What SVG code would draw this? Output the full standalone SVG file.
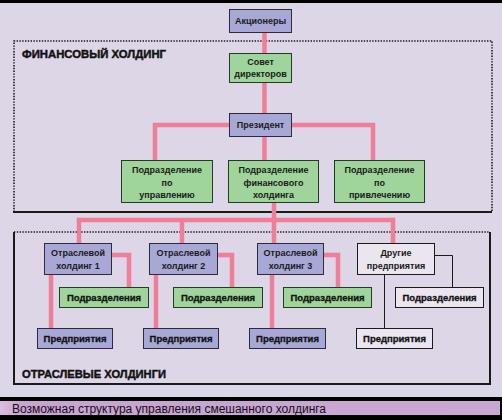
<svg xmlns="http://www.w3.org/2000/svg" width="502" height="420" viewBox="0 0 502 420">
<defs>
<linearGradient id="cap" x1="0" y1="0" x2="1" y2="0">
<stop offset="0" stop-color="#d8c0e0"/>
<stop offset="0.04" stop-color="#c9a3d2"/>
<stop offset="1" stop-color="#c9a7d3"/>
</linearGradient>
<style>
.bg{fill:#ddd6e7}
.blue{fill:#a8a8d6;stroke:#2b2b3a;stroke-width:1}
.green{fill:#9fd49b;stroke:#263826;stroke-width:1}
.white{fill:#ebe5f0;stroke:#1a1a1a;stroke-width:1}
.t{font-family:"Liberation Sans",Arial,sans-serif;font-weight:bold;font-size:9px;fill:#1a1a1a;text-anchor:middle}
.tb{font-family:"Liberation Sans",Arial,sans-serif;font-weight:bold;font-size:9.5px;fill:#111;stroke:#111;stroke-width:0.3;text-anchor:middle}
.head{font-family:"Liberation Sans",Arial,sans-serif;font-weight:bold;font-size:11.5px;fill:#111;stroke:#111;stroke-width:0.45}
.pink{fill:none;stroke:#ef7e99;stroke-width:4.5;stroke-linejoin:miter;stroke-linecap:butt}
.thin{fill:none;stroke:#1a1a1a;stroke-width:1}
.dot{fill:none;stroke:#1a1a1a;stroke-width:1.6;stroke-dasharray:1.4 1.4}
.solid{fill:none;stroke:#1a1a1a;stroke-width:2}
</style>
</defs>
<rect class="bg" x="0" y="0" width="502" height="420"/>
<rect x="0" y="0" width="502" height="3" fill="#000"/>
<rect x="0" y="397" width="502" height="23" fill="#000"/>
<rect x="0" y="401" width="500" height="14" fill="url(#cap)"/>
<text x="12" y="412.5" font-family="'Liberation Sans',Arial,sans-serif" font-size="12" fill="#111">Возможная структура управления смешанного холдинга</text>

<g id="financial-holding-frame">
<path class="dot" d="M14,212 V41 H492 V212"/>
<line class="solid" x1="13" y1="212" x2="492" y2="212"/>
<text class="head" x="22" y="58" textLength="144" lengthAdjust="spacingAndGlyphs">ФИНАНСОВЫЙ ХОЛДИНГ</text>
</g>
<g id="sector-holdings-frame">
<line class="dot" x1="14" y1="232" x2="490" y2="232"/>
<path class="solid" d="M14,232 V384 H490 V232"/>
<text class="head" x="22" y="378" textLength="144" lengthAdjust="spacingAndGlyphs">ОТРАСЛЕВЫЕ ХОЛДИНГИ</text>
</g>

<g id="connectors">
<line class="pink" x1="264.5" y1="32" x2="264.5" y2="53"/>
<line class="pink" x1="264.5" y1="82" x2="264.5" y2="113"/>
<polyline class="pink" points="229,125 155,125 155,160"/>
<polyline class="pink" points="292,125 373,125 373,160"/>
<line class="pink" x1="264.5" y1="137" x2="264.5" y2="160"/>
<line class="pink" x1="274" y1="202" x2="274" y2="243"/>
<polyline class="pink" points="79,243 79,220 393,220 393,243"/>
<line class="pink" x1="182" y1="220" x2="182" y2="243"/>
<polyline class="pink" points="111,255 129,255 129,287"/>
<line class="pink" x1="51" y1="274" x2="51" y2="328"/>
<polyline class="pink" points="217,255 232,255 232,287"/>
<line class="pink" x1="156" y1="274" x2="156" y2="328"/>
<polyline class="pink" points="323,255 338,255 338,287"/>
<line class="pink" x1="272" y1="274" x2="272" y2="328"/>
<polyline class="thin" points="434,255.5 452.5,255.5 452.5,287"/>
<line class="thin" x1="384.5" y1="274" x2="384.5" y2="328"/>
</g>

<g id="shareholders"><rect class="blue" x="229.5" y="9.5" width="62" height="23"/><text class="t" x="260.5" y="24">Акционеры</text></g>
<g id="board"><rect class="green" x="229.5" y="53.5" width="62" height="29"/><text class="t" x="260.5" y="65">Совет</text><text class="t" x="260.5" y="77">директоров</text></g>
<g id="president"><rect class="blue" x="229.5" y="113.5" width="62" height="23"/><text class="t" x="260.5" y="128">Президент</text></g>
<g id="div-management"><rect class="green" x="121.5" y="160.5" width="91" height="42"/><text class="t" x="167" y="173">Подразделение</text><text class="t" x="167" y="185.5">по</text><text class="t" x="167" y="198">управлению</text></g>
<g id="div-finance"><rect class="green" x="228.5" y="160.5" width="90" height="42"/><text class="t" x="273.5" y="173">Подразделение</text><text class="t" x="273.5" y="185.5">финансового</text><text class="t" x="273.5" y="198">холдинга</text></g>
<g id="div-attraction"><rect class="green" x="334.5" y="160.5" width="90" height="42"/><text class="t" x="379.5" y="173">Подразделение</text><text class="t" x="379.5" y="185.5">по</text><text class="t" x="379.5" y="198">привлечению</text></g>

<g id="sector-1"><rect class="blue" x="44.5" y="243.5" width="67" height="31"/><text class="t" x="78" y="255.5">Отраслевой</text><text class="t" x="78" y="268.5">холдинг 1</text></g>
<g id="sector-2"><rect class="blue" x="149.5" y="243.5" width="68" height="31"/><text class="t" x="183.5" y="255.5">Отраслевой</text><text class="t" x="183.5" y="268.5">холдинг 2</text></g>
<g id="sector-3"><rect class="blue" x="257.5" y="243.5" width="66" height="31"/><text class="t" x="290.5" y="255.5">Отраслевой</text><text class="t" x="290.5" y="268.5">холдинг 3</text></g>
<g id="other"><rect class="white" x="357.5" y="243.5" width="77" height="31"/><text class="t" x="396" y="255.5">Другие</text><text class="t" x="396" y="268.5">предприятия</text></g>

<g id="units-1"><rect class="green" x="59.5" y="287.5" width="89" height="20"/><text class="tb" x="104" y="301">Подразделения</text></g>
<g id="units-2"><rect class="green" x="173.5" y="287.5" width="89" height="20"/><text class="tb" x="218" y="301">Подразделения</text></g>
<g id="units-3"><rect class="green" x="283.5" y="287.5" width="88" height="20"/><text class="tb" x="327.5" y="301">Подразделения</text></g>
<g id="units-4"><rect class="white" x="395.5" y="287.5" width="88" height="20"/><text class="tb" x="439.5" y="301">Подразделения</text></g>

<g id="enterprises-1"><rect class="blue" x="37.5" y="328.5" width="75" height="20"/><text class="tb" x="75" y="342">Предприятия</text></g>
<g id="enterprises-2"><rect class="blue" x="143.5" y="328.5" width="75" height="20"/><text class="tb" x="181" y="342">Предприятия</text></g>
<g id="enterprises-3"><rect class="blue" x="249.5" y="328.5" width="76" height="20"/><text class="tb" x="287.5" y="342">Предприятия</text></g>
<g id="enterprises-4"><rect class="white" x="356.5" y="328.5" width="76" height="20"/><text class="tb" x="394.5" y="342">Предприятия</text></g>
</svg>
